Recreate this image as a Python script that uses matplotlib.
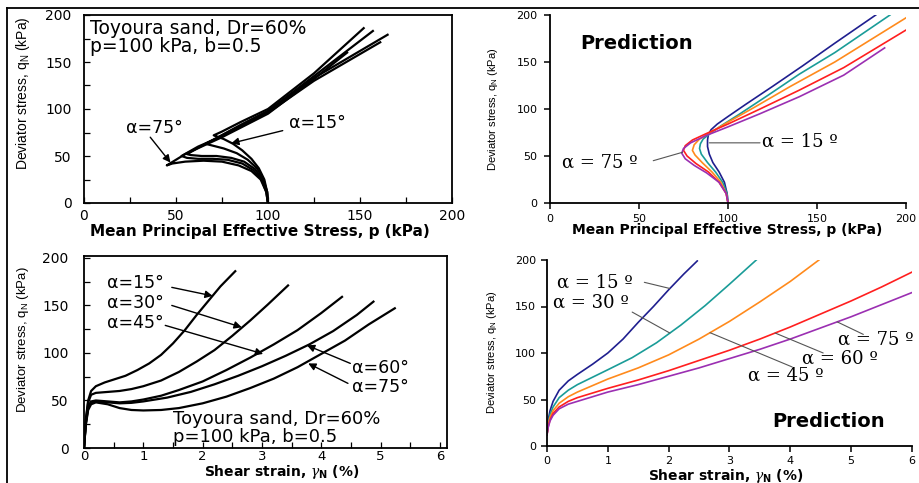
import numpy as np
import matplotlib
matplotlib.use('Agg')
import matplotlib.pyplot as plt
from matplotlib.lines import Line2D
from matplotlib.ticker import MultipleLocator

plt.rcParams['font.family'] = ['DejaVu Sans']
plt.rcParams['mathtext.fontset'] = 'dejavuserif'

# ---------------- data ----------------
alphas = [15, 30, 45, 60, 75]

# Experiment: stress paths p (kPa) vs q (kPa)
exp_p15 = [100, 99.5, 98, 95, 91, 86, 81, 76, 72, 70.5, 75, 85, 100, 125, 152]
exp_q15 = [0, 12, 25, 37, 47, 56, 63, 68, 71, 72, 76, 86, 100, 138, 186]
exp_p30 = [100, 99.5, 97.5, 94, 89, 83, 76, 70, 66, 72, 85, 100, 125, 157]
exp_q30 = [0, 12, 25, 37, 46, 53, 58, 61, 63, 69, 83, 98, 135, 183]
exp_p45 = [100, 99.5, 97, 93, 87, 80, 72, 64, 58, 56, 65, 75, 100, 125, 165]
exp_q45 = [0, 12, 25, 36, 44, 48, 50, 50, 51, 52, 62, 72, 97, 133, 179]
exp_p60 = [100, 99, 96.5, 92, 86, 78, 70, 62, 56, 53, 62, 75, 100, 125, 161]
exp_q60 = [0, 12, 25, 35, 42, 46, 47, 47, 48, 50, 60, 71, 96, 130, 171]
exp_p75 = [100, 99, 96, 91, 84, 75, 65, 55, 48, 45, 55, 75, 100, 125, 143]
exp_q75 = [0, 12, 25, 34, 40, 44, 45, 44, 42, 40, 52, 70, 95, 132, 160]

# Prediction: stress paths
pre_p15 = [100, 99.5, 98, 95, 91.5, 89.5, 88.5, 88.5, 89, 90.5, 94, 100, 110, 125, 142, 160, 183]
pre_q15 = [0, 10, 22, 33, 43, 52, 60, 67, 73, 78, 84, 92, 105, 124, 146, 170, 200]
pre_p30 = [100, 99.5, 97, 93, 88.5, 85, 84, 84.5, 86, 90, 96, 106, 122, 140, 160, 191]
pre_q30 = [0, 10, 22, 33, 43, 52, 58, 63, 68, 74, 82, 94, 114, 137, 160, 200]
pre_p45 = [100, 99, 96, 91, 85.5, 81.5, 80, 81, 84, 90, 100, 115, 135, 160, 200]
pre_q45 = [0, 10, 22, 33, 43, 51, 56, 62, 68, 75, 86, 102, 124, 150, 197]
pre_p60 = [100, 99, 95, 89, 82, 77, 75, 76, 80, 88, 100, 118, 140, 165, 200]
pre_q60 = [0, 10, 22, 33, 42, 50, 56, 61, 67, 74, 84, 100, 120, 144, 184]
pre_p75 = [100, 99, 95, 88, 81, 76, 74, 75, 79, 88, 100, 118, 140, 165, 188]
pre_q75 = [0, 10, 22, 32, 40, 47, 53, 58, 64, 72, 81, 95, 113, 136, 165]

# Experiment: shear strain (%) vs q (kPa)
exg_x15 = [0, 0.03, 0.07, 0.12, 0.2, 0.35, 0.5, 0.7, 0.9, 1.1, 1.3, 1.5, 1.7, 1.9, 2.1, 2.3, 2.55]
exg_q15 = [0, 30, 50, 60, 65, 69, 72, 76, 82, 89, 98, 110, 124, 140, 155, 170, 186]
exg_x30 = [0, 0.03, 0.07, 0.12, 0.2, 0.4, 0.6, 0.8, 1.0, 1.3, 1.6, 1.9, 2.2, 2.5, 2.8, 3.1, 3.44]
exg_q30 = [0, 28, 48, 56, 58, 59, 60, 62, 65, 71, 80, 91, 103, 118, 134, 151, 171]
exg_x45 = [0, 0.03, 0.07, 0.12, 0.2, 0.4, 0.6, 0.8, 1.0, 1.3, 1.6, 2.0, 2.4, 2.8, 3.2, 3.6, 4.0, 4.35]
exg_q45 = [0, 26, 44, 49, 50, 49, 48, 49, 51, 55, 61, 70, 82, 95, 109, 124, 142, 159]
exg_x60 = [0, 0.03, 0.07, 0.12, 0.2, 0.4, 0.6, 0.8, 1.0, 1.4, 1.8, 2.2, 2.6, 3.0, 3.4, 3.8, 4.2, 4.6, 4.88]
exg_q60 = [0, 25, 42, 48, 49, 48, 47, 47.5, 49, 53, 59, 67, 76, 86, 97, 109, 123, 140, 154]
exg_x75 = [0, 0.03, 0.07, 0.12, 0.2, 0.4, 0.6, 0.8, 1.0, 1.3, 1.6, 2.0, 2.4, 2.8, 3.2, 3.6, 4.0, 4.4, 4.8, 5.24]
exg_q75 = [0, 24, 40, 46, 48, 46, 42, 40, 39.5, 40, 42, 47, 54, 63, 73, 85, 99, 113, 130, 147]

# Prediction: shear strain (%) vs q (kPa)
prg_x15 = [0, 0.02, 0.05, 0.1, 0.2, 0.35, 0.5, 0.75, 1.0, 1.25, 1.5, 1.75, 2.0, 2.25, 2.47]
prg_q15 = [12, 28, 38, 48, 60, 70, 77, 88, 100, 115, 133, 150, 168, 185, 199]
prg_x30 = [0, 0.02, 0.05, 0.1, 0.2, 0.35, 0.5, 0.75, 1.0, 1.4, 1.8, 2.2, 2.6, 3.0, 3.44]
prg_q30 = [12, 25, 34, 42, 52, 60, 66, 74, 82, 95, 111, 130, 151, 174, 200]
prg_x45 = [0, 0.02, 0.05, 0.1, 0.2, 0.35, 0.5, 0.75, 1.0, 1.5, 2.0, 2.5, 3.0, 3.5, 4.0, 4.47]
prg_q45 = [12, 23, 31, 38, 46, 53, 58, 65, 72, 84, 98, 115, 134, 155, 177, 200]
prg_x60 = [0, 0.02, 0.05, 0.1, 0.2, 0.35, 0.5, 0.75, 1.0, 1.5, 2.0, 2.5, 3.0, 3.5, 4.0, 4.5, 5.0, 5.5, 6.0]
prg_q60 = [12, 21, 28, 35, 42, 48, 52, 57, 62, 71, 81, 92, 103, 115, 128, 142, 156, 171, 187]
prg_x75 = [0, 0.02, 0.05, 0.1, 0.2, 0.35, 0.5, 0.75, 1.0, 1.5, 2.0, 2.5, 3.0, 3.5, 4.0, 4.5, 5.0, 5.5, 6.0]
prg_q75 = [12, 20, 27, 33, 40, 45, 48, 53, 58, 66, 75, 84, 94, 104, 115, 127, 139, 152, 165]

pred_colors = ['#1f1f8f', '#1a9c98', '#ff8a1c', '#ff1f1f', '#9b2fb2']

stress_ticks = [0, 50, 100, 150, 200]
strain_ticks = [0, 1, 2, 3, 4, 5, 6]

ylabel_txt = r'Deviator stress, q$_\mathregular{N}$ (kPa)'
xlabel_p = 'Mean Principal Effective Stress, p (kPa)'
xlabel_g = r'Shear strain, $\gamma_\mathregular{N}$ (%)'
note1 = 'Toyoura sand, Dr=60%'
note2 = 'p=100 kPa, b=0.5'

# ---------------- figure ----------------
W, H = 920, 483
fig = plt.figure(figsize=(W / 100, H / 100), dpi=100)


def px_axes(x0, x1, ytop, ybot):
    return fig.add_axes([x0 / W, 1 - ybot / H, (x1 - x0) / W, (ybot - ytop) / H])


# outer frame lines (top and left)
fig.add_artist(Line2D([7 / W, 1], [1 - 8 / H, 1 - 8 / H], color='k', lw=1.3))
fig.add_artist(Line2D([7 / W, 7 / W], [0, 1 - 8 / H], color='k', lw=1.3))

arrow_kw = dict(arrowstyle='-|>', color='k', lw=1.0, mutation_scale=11, shrinkA=0, shrinkB=0)
line_kw = dict(arrowstyle='-', color='#555555', lw=0.8, shrinkA=0, shrinkB=0)
serif = 'DejaVu Serif'

# ---- panel 1: experiment, stress path ----
ax1 = px_axes(84, 452, 15, 203)
exp_paths = [(exp_p15, exp_q15), (exp_p30, exp_q30), (exp_p45, exp_q45),
             (exp_p60, exp_q60), (exp_p75, exp_q75)]
for p, q in exp_paths:
    ax1.plot(p, q, color='k', lw=1.6)
ax1.set_xlim(0, 200)
ax1.set_ylim(0, 200)
ax1.set_xticks(stress_ticks)
ax1.set_yticks(stress_ticks)
ax1.xaxis.set_minor_locator(MultipleLocator(25))
ax1.yaxis.set_minor_locator(MultipleLocator(25))
ax1.tick_params(which='both', direction='in', length=4, width=0.9)
ax1.tick_params(axis='y', pad=9, labelsize=10)
ax1.tick_params(axis='x', pad=4, labelsize=10)
for s in ax1.spines.values():
    s.set_linewidth(1.3)
ax1.set_xlabel(xlabel_p, fontsize=11, fontweight='bold')
ax1.xaxis.set_label_coords(0.478, -0.154)
ax1.xaxis.label.set_va('center')
ax1.set_ylabel(ylabel_txt, fontsize=10, family='Liberation Sans')
ax1.yaxis.set_label_coords(-0.166, 0.585)
ax1.yaxis.label.set_va('center')
ax1.text(3.5, 186, note1, fontsize=13.5, va='center', ha='left')
ax1.text(3.5, 167, note2, fontsize=13.5, va='center', ha='left')
ax1.annotate('', xy=(47, 43), xytext=(36, 70), arrowprops=arrow_kw)
ax1.text(38, 80, 'α=75°', fontsize=12.5, ha='center', va='center')
ax1.annotate('', xy=(80, 63.5), xytext=(108, 77), arrowprops=arrow_kw)
ax1.text(127, 85, 'α=15°', fontsize=12.5, ha='center', va='center')

# ---- panel 2: prediction, stress path ----
ax2 = px_axes(550, 906, 15, 203)
pre_paths = [(pre_p15, pre_q15), (pre_p30, pre_q30), (pre_p45, pre_q45),
             (pre_p60, pre_q60), (pre_p75, pre_q75)]
for (p, q), c in zip(pre_paths, pred_colors):
    ax2.plot(p, q, color=c, lw=1.2)
ax2.set_xlim(0, 200)
ax2.set_ylim(0, 200)
ax2.set_xticks(stress_ticks)
ax2.set_yticks(stress_ticks)
ax2.spines['top'].set_visible(False)
ax2.spines['right'].set_visible(False)
for s in ('left', 'bottom'):
    ax2.spines[s].set_linewidth(1.3)
ax2.tick_params(direction='out', length=4, width=1.1, labelsize=8)
ax2.tick_params(axis='y', pad=5)
ax2.tick_params(axis='x', pad=4)
ax2.set_xlabel(xlabel_p, fontsize=10, fontweight='bold')
ax2.xaxis.set_label_coords(0.497, -0.144)
ax2.xaxis.label.set_va('center')
ax2.set_ylabel(ylabel_txt, fontsize=8, family='Liberation Sans')
ax2.yaxis.set_label_coords(-0.16, 0.5)
ax2.yaxis.label.set_va('center')
ax2.text(17, 170, 'Prediction', fontsize=14, fontweight='bold', ha='left', va='center')
ax2.annotate('', xy=(89.5, 64), xytext=(118, 64), arrowprops=line_kw)
ax2.text(119, 65, 'α = 15 º', fontsize=13, family=serif, ha='left', va='center')
ax2.annotate('', xy=(74.5, 54), xytext=(58, 45), arrowprops=line_kw)
ax2.text(7, 43, 'α = 75 º', fontsize=13, family=serif, ha='left', va='center')

# ---- panel 3: experiment, shear strain ----
ax3 = px_axes(84, 447, 256, 448)
exp_strain = [(exg_x15, exg_q15), (exg_x30, exg_q30), (exg_x45, exg_q45),
              (exg_x60, exg_q60), (exg_x75, exg_q75)]
for x, q in exp_strain:
    ax3.plot(x, q, color='k', lw=1.6)
ax3.set_xlim(0, 6.12)
ax3.set_ylim(0, 202)
ax3.set_xticks(strain_ticks)
ax3.set_yticks(stress_ticks)
ax3.xaxis.set_minor_locator(MultipleLocator(0.5))
ax3.yaxis.set_minor_locator(MultipleLocator(25))
ax3.tick_params(which='both', direction='in', length=4, width=0.9)
ax3.tick_params(axis='y', pad=11, labelsize=10)
ax3.tick_params(axis='x', pad=1.5, labelsize=9.5)
for s in ax3.spines.values():
    s.set_linewidth(1.3)
ax3.set_xlabel(xlabel_g, fontsize=10, fontweight='bold')
ax3.xaxis.set_label_coords(0.543, -0.126)
ax3.xaxis.label.set_va('center')
ax3.set_ylabel(ylabel_txt, fontsize=9.5, family='Liberation Sans')
ax3.yaxis.set_label_coords(-0.168, 0.5625)
ax3.yaxis.label.set_va('center')
ax3.text(0.39, 174, 'α=15°', fontsize=12.5, ha='left', va='center')
ax3.annotate('', xy=(2.17, 160), xytext=(1.48, 169), arrowprops=arrow_kw)
ax3.text(0.39, 153, 'α=30°', fontsize=12.5, ha='left', va='center')
ax3.annotate('', xy=(2.66, 127), xytext=(1.48, 150), arrowprops=arrow_kw)
ax3.text(0.39, 132, 'α=45°', fontsize=12.5, ha='left', va='center')
ax3.annotate('', xy=(3.02, 99), xytext=(1.37, 129), arrowprops=arrow_kw)
ax3.text(4.52, 84, 'α=60°', fontsize=12.5, ha='left', va='center')
ax3.annotate('', xy=(3.76, 108), xytext=(4.49, 89), arrowprops=arrow_kw)
ax3.text(4.52, 64, 'α=75°', fontsize=12.5, ha='left', va='center')
ax3.annotate('', xy=(3.78, 89), xytext=(4.45, 68), arrowprops=arrow_kw)
ax3.text(1.5, 31, note1, fontsize=13, ha='left', va='center')
ax3.text(1.5, 12, note2, fontsize=13, ha='left', va='center')

# ---- panel 4: prediction, shear strain ----
ax4 = px_axes(547, 912, 260, 446)
pre_strain = [(prg_x15, prg_q15), (prg_x30, prg_q30), (prg_x45, prg_q45),
              (prg_x60, prg_q60), (prg_x75, prg_q75)]
for (x, q), c in zip(pre_strain, pred_colors):
    ax4.plot(x, q, color=c, lw=1.2)
ax4.set_xlim(0, 6)
ax4.set_ylim(0, 200)
ax4.set_xticks(strain_ticks)
ax4.set_yticks(stress_ticks)
ax4.spines['top'].set_visible(False)
ax4.spines['right'].set_visible(False)
for s in ('left', 'bottom'):
    ax4.spines[s].set_linewidth(1.3)
ax4.tick_params(direction='out', length=4, width=1.1, labelsize=8)
ax4.tick_params(axis='y', pad=4)
ax4.tick_params(axis='x', pad=3)
ax4.set_xlabel(xlabel_g, fontsize=10, fontweight='bold')
ax4.xaxis.set_label_coords(0.488, -0.16)
ax4.xaxis.label.set_va('center')
ax4.set_ylabel(ylabel_txt, fontsize=8, family='Liberation Sans')
ax4.yaxis.set_label_coords(-0.151, 0.505)
ax4.yaxis.label.set_va('center')
ax4.text(3.7, 26, 'Prediction', fontsize=14, fontweight='bold', ha='left', va='center')

lab4 = [('α = 15 º', 0.16, 176, (1.6, 176), 2.02, 0),
        ('α = 30 º', 0.10, 154, (1.4, 144), 2.02, 1),
        ('α = 45 º', 3.30, 76, (4.03, 85), 2.68, 2),
        ('α = 60 º', 4.19, 94, (4.54, 100), 3.75, 3),
        ('α = 75 º', 4.79, 114, (5.2, 120), 4.77, 4)]
for txt, tx, ty, start, xe, k in lab4:
    xs, qs = pre_strain[k]
    ye = float(np.interp(xe, xs, qs))
    ax4.annotate('', xy=(xe, ye), xytext=start, arrowprops=line_kw)
    ax4.text(tx, ty, txt, fontsize=13, family=serif, ha='left', va='center', clip_on=False)

fig.savefig('out.png', dpi=100)
